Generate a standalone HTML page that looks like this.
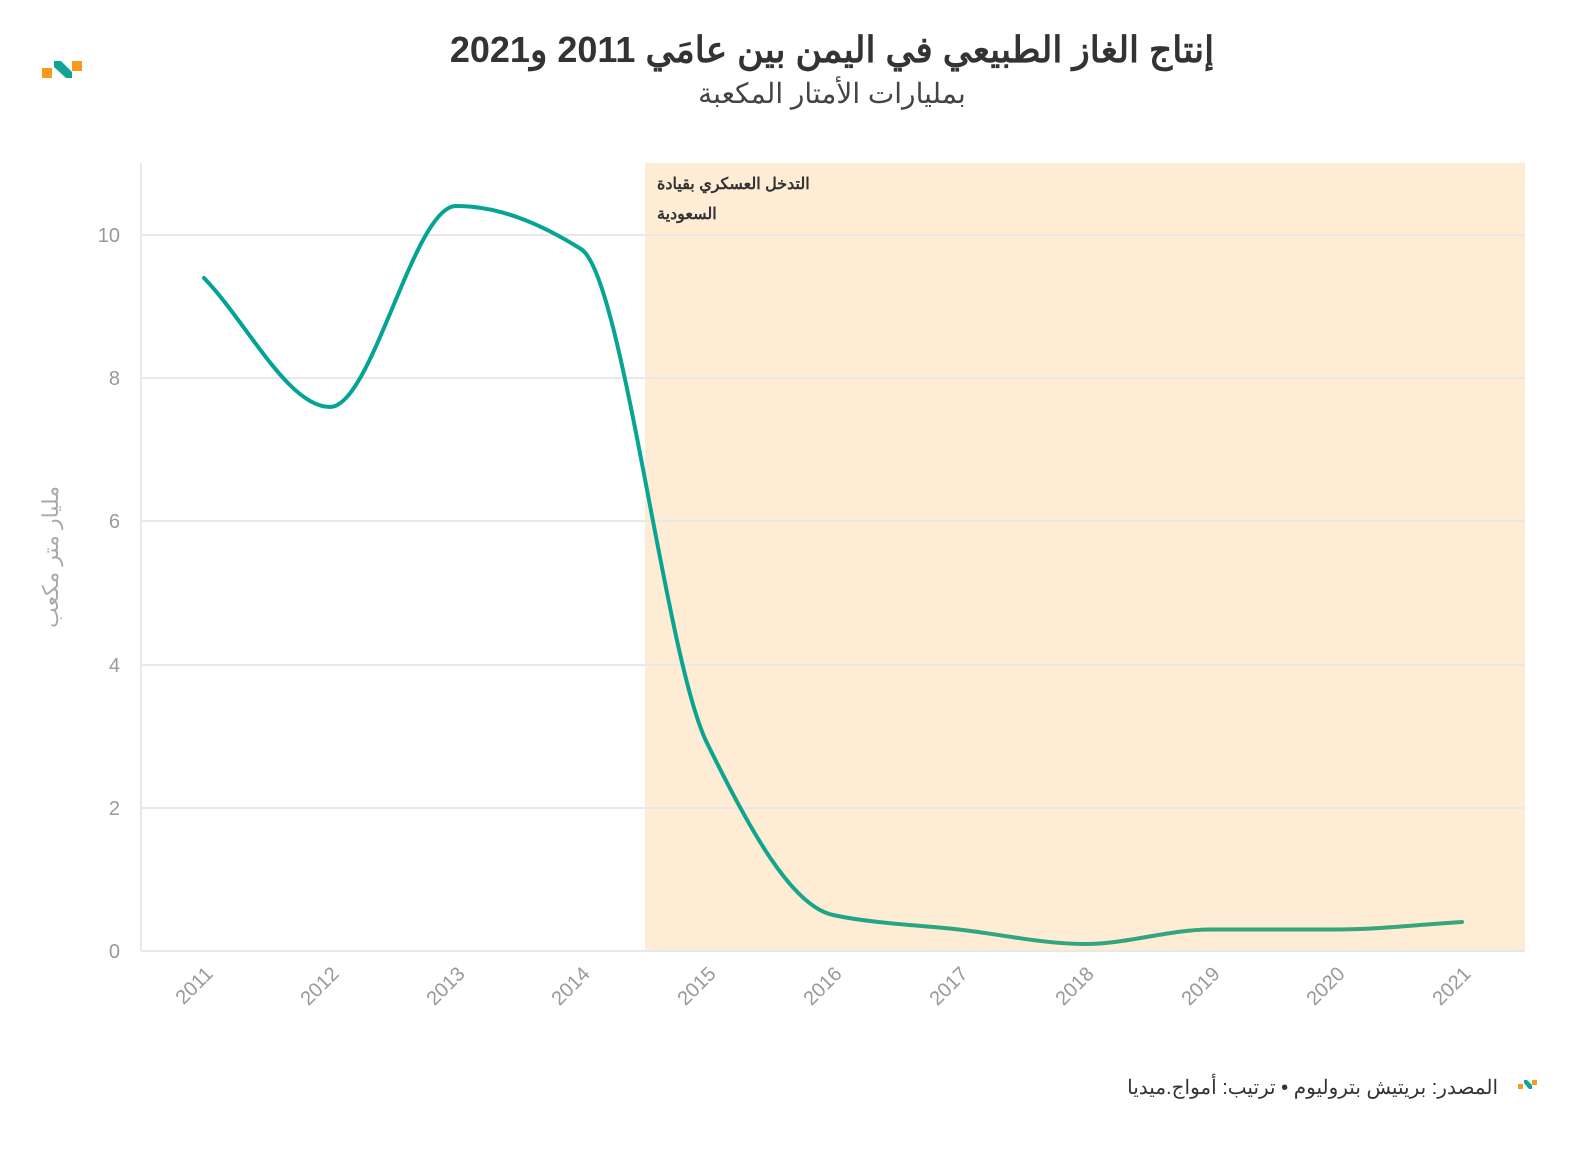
<!DOCTYPE html>
<html><head><meta charset="utf-8"><style>
html,body{margin:0;padding:0;background:#fff;overflow:hidden}
svg{display:block;width:100vw;height:100vh}
</style></head><body>
<svg viewBox="0 0 1592 1150" preserveAspectRatio="none" xmlns="http://www.w3.org/2000/svg" font-family="Liberation Sans, Noto Sans CJK SC, sans-serif">
<defs><linearGradient id="g" x1="0" x2="1" y1="0" y2="0"><stop offset="0" stop-color="#00a396"/><stop offset="0.4" stop-color="#0aa591"/><stop offset="0.6" stop-color="#2fa580"/><stop offset="1" stop-color="#3aa57a"/></linearGradient></defs>
<rect x="42" y="68" width="10" height="10" fill="#f89b1c"/>
<rect x="72" y="61" width="10" height="10" fill="#f89b1c"/>
<path d="M54 61 L61 61 L72 72 L72 78 L66 78 L54 67 Z" fill="#0ea596"/>
<text x="832" y="62" text-anchor="middle" font-size="36" font-weight="bold" fill="#333" direction="rtl">إنتاج الغاز الطبيعي في اليمن بين عامَي 2011 و2021</text>
<text x="832" y="103" text-anchor="middle" font-size="28" fill="#444" direction="rtl">بمليارات الأمتار المكعبة</text>
<rect x="645" y="163" width="880" height="788" fill="#feecd5"/>
<g stroke="#e8e8e8" stroke-width="2">
<line x1="141" x2="1525" y1="235" y2="235"/><line x1="141" x2="1525" y1="378" y2="378"/><line x1="141" x2="1525" y1="521" y2="521"/><line x1="141" x2="1525" y1="665" y2="665"/><line x1="141" x2="1525" y1="808" y2="808"/><line x1="141" x2="1525" y1="951" y2="951"/>
<line x1="141" x2="141" y1="163" y2="951"/>
</g>
<g font-size="20" fill="#999" text-anchor="end">
<text x="120" y="242">10</text><text x="120" y="385">8</text><text x="120" y="528">6</text><text x="120" y="672">4</text><text x="120" y="815">2</text><text x="120" y="958">0</text>
</g>
<text transform="translate(58,557) rotate(-90)" text-anchor="middle" font-size="22" fill="#aaa" direction="rtl">مليار متر مكعب</text>
<g font-size="20" fill="#999" text-anchor="end">
<text transform="translate(214,975) rotate(-45)">2011</text>
<text transform="translate(340,975) rotate(-45)">2012</text>
<text transform="translate(466,975) rotate(-45)">2013</text>
<text transform="translate(591,975) rotate(-45)">2014</text>
<text transform="translate(717,975) rotate(-45)">2015</text>
<text transform="translate(843,975) rotate(-45)">2016</text>
<text transform="translate(969,975) rotate(-45)">2017</text>
<text transform="translate(1095,975) rotate(-45)">2018</text>
<text transform="translate(1221,975) rotate(-45)">2019</text>
<text transform="translate(1346,975) rotate(-45)">2020</text>
<text transform="translate(1472,975) rotate(-45)">2021</text>
</g>
<text x="657" y="189" text-anchor="end" font-size="16" font-weight="bold" fill="#333" direction="rtl">التدخل العسكري بقيادة</text>
<text x="657" y="219" text-anchor="end" font-size="16" font-weight="bold" fill="#333" direction="rtl">السعودية</text>
<path d="M204 278 C246 321 288 407 330 407 C372 407 414 206 456 206 C498 206 539 222.6 581 249 C623 275.4 665 658 707 743 C749 828 791 906 833 915 C875 923.9 917 924.7 959 929.5 C1001 934.3 1043 944 1085 944 C1127 944 1169 929.5 1211 929.5 C1253 929.5 1294 929.5 1336 929.5 C1378 929.5 1420 924.5 1462 922" fill="none" stroke="url(#g)" stroke-width="4" stroke-linecap="round"/>
<text x="1498" y="1094" text-anchor="start" font-size="20" fill="#333" direction="rtl">المصدر: بريتيش بتروليوم • ترتيب: أمواج.ميديا</text>
<rect x="1518" y="1084" width="5" height="5" fill="#f89b1c"/>
<rect x="1532" y="1080" width="5" height="5" fill="#f89b1c"/>
<path d="M1524 1080 L1527 1080 L1532 1085 L1532 1089 L1529 1089 L1524 1083 Z" fill="#0ea596"/>
</svg>
</body></html>
